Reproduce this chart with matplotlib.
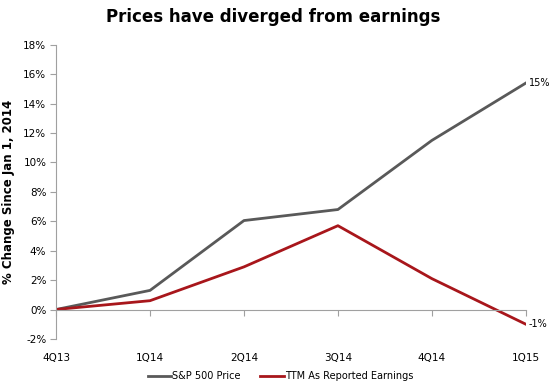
import matplotlib.pyplot as plt

quarters = ['4Q13', '1Q14', '2Q14', '3Q14', '4Q14', '1Q15']
sp500_price = [0.0, 1.3, 6.05, 6.8, 11.5, 15.4]
ttm_earnings = [0.0, 0.6, 2.9, 5.7, 2.1, -1.0]
yticks = list(range(-2, 19, 2))

fig = plt.figure(figsize=(5.5, 3.9), dpi=100)
ax = fig.add_axes([0.102, 0.131, 0.854, 0.754])

x = range(len(quarters))
ax.plot(x, sp500_price, color='#595959', lw=2, label='S&P 500 Price')
ax.plot(x, ttm_earnings, color='#a8161b', lw=2, label='TTM As Reported Earnings')

for s in ['top', 'right']:
    ax.spines[s].set_visible(False)
ax.spines['bottom'].set_position(('data', 0))
ax.spines['bottom'].set_color('#a0a0a0')
ax.spines['left'].set_color('#a0a0a0')

ax.set_xlim(0, len(quarters) - 1)
ax.set_ylim(-2, 18)
ax.set_yticks(yticks)
ax.set_yticklabels([f'{t}%' for t in yticks])
ax.set_xticks(list(x))
ax.set_xticklabels(quarters)
ax.tick_params(axis='y', length=4, color='#a0a0a0', pad=3, labelsize=7.5)
ax.tick_params(axis='x', length=4, color='#a0a0a0', pad=27, labelsize=7.5)

ax.text(len(quarters) - 1 + 0.03, sp500_price[-1], f'{sp500_price[-1]:.0f}%',
        fontsize=7, va='center', ha='left')
ax.text(len(quarters) - 1 + 0.03, ttm_earnings[-1], f'{ttm_earnings[-1]:.0f}%',
        fontsize=7, va='center', ha='left')

ax.set_ylabel('% Change Since Jan 1, 2014', fontsize=8.5, fontweight='bold', labelpad=6)
fig.text(0.497, 0.957, 'Prices have diverged from earnings', fontsize=12,
         fontweight='bold', ha='center', va='center')

fig.legend(loc='lower center', bbox_to_anchor=(0.51, 0.0), ncol=2, frameon=False,
           fontsize=7, handlelength=2.4, handletextpad=0.1, columnspacing=2.0)

fig.savefig('out.png')
